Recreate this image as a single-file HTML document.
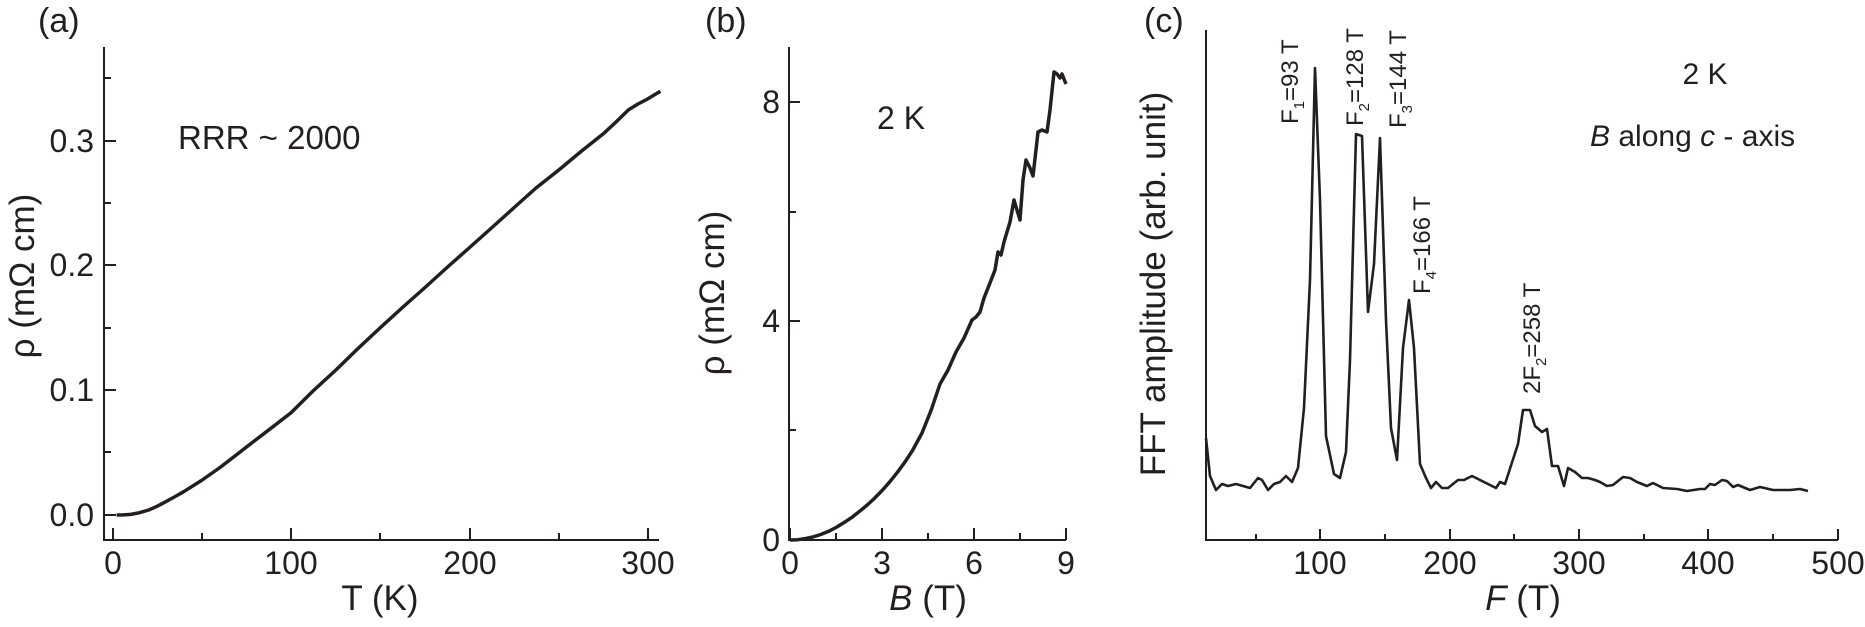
<!DOCTYPE html>
<html><head><meta charset="utf-8"><style>
html,body{margin:0;padding:0;background:#fff;}
svg{display:block;font-family:"Liberation Sans",sans-serif;fill:#231f20;}
</style></head><body>
<svg width="1865" height="627" viewBox="0 0 1865 627" xmlns="http://www.w3.org/2000/svg">
<g stroke="#231f20" stroke-width="2" fill="none">
<path d="M104,47 V540 H659"/>
<path d="M104,515 h12 M104,390 h12 M104,265 h12 M104,141 h12 M104,452 h7 M104,328 h7 M104,203 h7 M104,78 h7"/>
<path d="M113,540 v-12 M291,540 v-12 M470,540 v-12 M648,540 v-12 M202,540 v-7 M380,540 v-7 M559,540 v-7"/>
<path d="M789,47 V540 H1066"/>
<path d="M789,540 h11 M789,321 h11 M789,102 h11 M789,430 h7 M789,212 h7"/>
<path d="M790,540 v-12 M882,540 v-12 M974,540 v-12 M1066,540 v-12 M836,540 v-7 M928,540 v-7 M1020,540 v-7"/>
<path d="M1206,30 V540 H1838"/>
<path d="M1320,540 v-11 M1450,540 v-11 M1579,540 v-11 M1708,540 v-11 M1838,540 v-11 M1256,540 v-6 M1385,540 v-6 M1514,540 v-6 M1644,540 v-6 M1773,540 v-6"/>
</g>
<g stroke="#231f20" stroke-width="3.5" fill="none" stroke-linejoin="round">
<polyline points="116.6,515 123,514.9 130.8,514.4 139,512.8 148.7,510 157,506.3 166.5,501.3 175,496.6 184.3,491.3 202.2,480 220,467.5 237.8,453.8 255.6,440 273.5,426.3 291.3,412.5 313,391 335.9,370 358,348.5 380.5,327.5 403,307 425,287.5 447,267.5 469.6,247.5 492,227.5 514.2,207.5 536,188 558.8,170 581,151.5 603.3,133.8 616,122 628.3,110 638,104 647.9,98.8 660.4,91.3"/>
<polyline points="790,540 797.7,539.7 805.4,538.6 813,536.9 820.7,534.5 828.4,531.4 836,527.5 843.7,522.8 851.4,517.7 859,511.8 866.8,505.4 874.4,498.4 882.1,490.5 889.8,481.8 897.5,472.2 905.1,461.8 912.8,450 922,433 931.2,410 940,384 948,370 956,352 964,338 972,320 976,317 980,312 984,298 988,288 995,270 998,252 1001,255 1004,242 1010,222 1014,200 1017,210 1020,220 1023,180 1026,160 1030,168 1033,176 1036,150 1038,132 1042,130 1047,132 1050,110 1054,72 1057,74 1060,78 1062,74 1066,84"/>
</g>
<polyline fill="none" stroke="#231f20" stroke-width="2.6" stroke-linejoin="round" points="1206,438 1210,476 1216,490 1222,484 1228,486 1236,484 1250,488 1258,478 1262,480 1268,490 1274,484 1280,482 1286,476 1292,482 1298,468 1304,408 1310,280 1315,68 1320,200 1326,436 1334,474 1340,478 1346,452 1350,360 1356,134 1362,136 1368,312 1374,264 1380,138 1386,320 1391,428 1397,460 1403,348 1409,300 1414,348 1420,464 1426,478 1431,488 1436,482 1442,488 1448,488 1458,480 1464,480 1472,476 1484,482 1496,488 1500,482 1505,484 1518,444 1523,410 1530,410 1535,426 1542,432 1547,429 1552,466 1558,466 1564,486 1568,468 1575,472 1582,478 1588,478 1595,480 1600,482 1607,486 1613,485 1623,477 1630,478 1637,482 1647,486 1653,483 1663,488 1677,489 1687,491 1700,489 1705,489 1710,484 1715,485 1722,480 1727,481 1733,487 1738,485 1750,490 1760,487 1773,490 1790,490 1800,489 1808,491"/>
<g font-size="32">
<text x="38" y="32" font-size="34">(a)</text>
<text x="94" y="526" text-anchor="end">0.0</text>
<text x="94" y="401" text-anchor="end">0.1</text>
<text x="94" y="276" text-anchor="end">0.2</text>
<text x="94" y="152" text-anchor="end">0.3</text>
<text x="113" y="574" text-anchor="middle">0</text>
<text x="291" y="574" text-anchor="middle">100</text>
<text x="470" y="574" text-anchor="middle">200</text>
<text x="648" y="574" text-anchor="middle">300</text>
<text x="178" y="149" font-size="33">RRR ~ 2000</text>
<text x="380" y="610" text-anchor="middle" font-size="35">T (K)</text>
<text transform="translate(34,276) rotate(-90)" text-anchor="middle" font-size="35">ρ (mΩ cm)</text>
</g>
<g font-size="32">
<text x="705" y="32" font-size="34">(b)</text>
<text x="780" y="551" text-anchor="end">0</text>
<text x="780" y="332" text-anchor="end">4</text>
<text x="780" y="113" text-anchor="end">8</text>
<text x="790" y="574" text-anchor="middle">0</text>
<text x="882" y="574" text-anchor="middle">3</text>
<text x="974" y="574" text-anchor="middle">6</text>
<text x="1066" y="574" text-anchor="middle">9</text>
<text x="877" y="129">2 K</text>
<text x="928" y="610" text-anchor="middle" font-size="35"><tspan font-style="italic">B</tspan> (T)</text>
<text transform="translate(724,293) rotate(-90)" text-anchor="middle" font-size="35">ρ (mΩ cm)</text>
</g>
<g font-size="32">
<text x="1144" y="32" font-size="34">(c)</text>
<text x="1320" y="574" text-anchor="middle">100</text>
<text x="1450" y="574" text-anchor="middle">200</text>
<text x="1579" y="574" text-anchor="middle">300</text>
<text x="1708" y="574" text-anchor="middle">400</text>
<text x="1838" y="574" text-anchor="middle">500</text>
<text x="1523" y="610" text-anchor="middle" font-size="35"><tspan font-style="italic">F</tspan> (T)</text>
<text transform="translate(1165,284) rotate(-90)" text-anchor="middle" font-size="35">FFT amplitude (arb. unit)</text>
<text x="1705" y="84" text-anchor="middle" font-size="30">2 K</text>
<text x="1590" y="146" font-size="30"><tspan font-style="italic">B</tspan> along <tspan font-style="italic">c</tspan> - axis</text>
</g>
<g font-size="24">
<text transform="translate(1298,124) rotate(-90)">F<tspan font-size="15" dy="6">1</tspan><tspan dy="-6">=93 T</tspan></text>
<text transform="translate(1363,126) rotate(-90)">F<tspan font-size="15" dy="6">2</tspan><tspan dy="-6">=128 T</tspan></text>
<text transform="translate(1406,128) rotate(-90)">F<tspan font-size="15" dy="6">3</tspan><tspan dy="-6">=144 T</tspan></text>
<text transform="translate(1430,294) rotate(-90)">F<tspan font-size="15" dy="6">4</tspan><tspan dy="-6">=166 T</tspan></text>
<text transform="translate(1540,394) rotate(-90)">2F<tspan font-size="15" dy="6">2</tspan><tspan dy="-6">=258 T</tspan></text>
</g>
</svg>
</body></html>
